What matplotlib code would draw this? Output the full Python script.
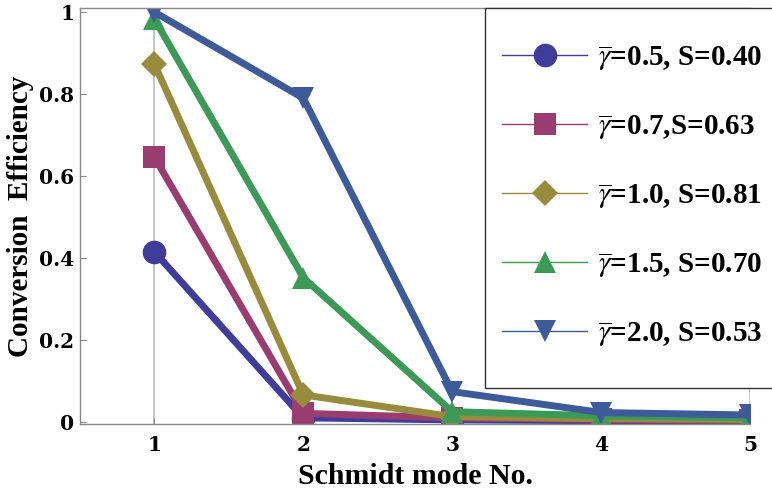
import matplotlib
matplotlib.use('Agg')
import matplotlib.pyplot as plt
from matplotlib.lines import Line2D
from matplotlib.patches import Rectangle

plt.rcParams['font.family'] = ['DejaVu Serif']
plt.rcParams['mathtext.fontset'] = 'stix'

modes = [1, 2, 3, 4, 5]
eff_g05 = [0.415, 0.010, 0.005, 0.003, 0.002]
eff_g07 = [0.646, 0.021, 0.010, 0.006, 0.004]
eff_g10 = [0.873, 0.066, 0.013, 0.008, 0.006]
eff_g15 = [0.983, 0.352, 0.025, 0.015, 0.010]
eff_g20 = [1.000, 0.790, 0.074, 0.023, 0.017]

labels = [r'$\overline{\gamma}$=0.5, S=0.40',
          r'$\overline{\gamma}$=0.7,S=0.63',
          r'$\overline{\gamma}$=1.0, S=0.81',
          r'$\overline{\gamma}$=1.5, S=0.70',
          r'$\overline{\gamma}$=2.0, S=0.53']
colors = ['#3F3D99', '#993D71', '#998B3D', '#3D9956', '#3D5A99']
markers = ['o', 's', 'D', '^', 'v']
msizes = [17, 16, 13, 16, 16]
series = [eff_g05, eff_g07, eff_g10, eff_g15, eff_g20]

label_font = 'Liberation Serif'

fig = plt.figure(figsize=(7.72, 4.93), dpi=100)
ax = fig.add_axes([80/772, 1-424/493, 670/772, 416/493])

ax.axvline(1, color='#bbbbbb', lw=1.2, zorder=0)
ax.axvline(5, color='#bbbbbb', lw=1.2, zorder=0)

for ys, c, m, ms in zip(series, colors, markers, msizes):
    ax.plot(modes, ys, color=c, lw=5, marker=m, markersize=ms, markeredgewidth=0)

ax.set_xlim(0.5, 5.0)
ax.set_ylim(-0.005, 1.01)
ax.set_xticks(modes)
ax.set_yticks([0, 0.2, 0.4, 0.6, 0.8, 1.0])
ax.set_yticklabels(['0', '0.2', '0.4', '0.6', '0.8', '1'])
ax.tick_params(direction='in', length=4, width=0.8, color='#888888',
               labelsize=14.5, pad=4)
ax.tick_params(axis='x', pad=8)
for t in ax.get_xticklabels() + ax.get_yticklabels():
    t.set_fontweight('bold')
ax.spines['right'].set_visible(False)
for s in ['left', 'bottom', 'top']:
    ax.spines[s].set_color('#888888')
    ax.spines[s].set_linewidth(1.0)

ax.set_xlabel('Schmidt mode No.', fontsize=21.5, fontweight='bold',
              family=label_font, labelpad=6)
ax.set_ylabel('Conversion  Efficiency', fontsize=21, fontweight='bold',
              family=label_font, labelpad=4)

# legend frame runs off the right edge
fig.patches.append(Rectangle((485/772, 1-388/493), 320/772, 380/493,
                             transform=fig.transFigure, fill=True,
                             facecolor='white', edgecolor='#333333', lw=1.0,
                             zorder=5, clip_on=False))
handles = [Line2D([0], [0], color=c, lw=1, marker=m, markersize=ms,
                  markeredgewidth=0)
           for c, m, ms in zip(colors, markers, msizes)]
leg = fig.legend(handles, labels, loc='upper left',
                 bbox_to_anchor=(476/772, 1-17/493), frameon=False,
                 prop={'size': 21, 'weight': 'bold', 'family': label_font},
                 handlelength=2.9, handletextpad=0.4, labelspacing=1.36)
leg.set_zorder(6)

fig.savefig('out.png', dpi=100, facecolor='white')
